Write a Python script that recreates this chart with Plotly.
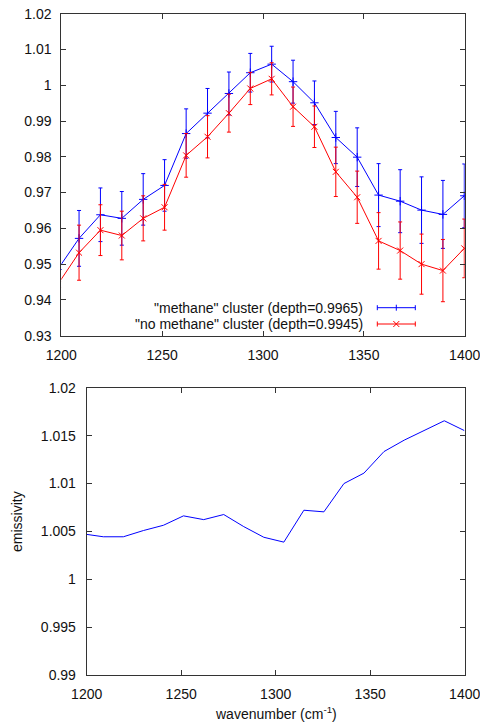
import plotly.graph_objects as go

# ---------------- data ----------------
wavenumber = [1198.2, 1208.8, 1219.4, 1230.0, 1240.6, 1251.2, 1261.9, 1272.5, 1283.1, 1293.7,
              1304.3, 1314.9, 1325.5, 1336.1, 1346.7, 1357.3, 1368.0, 1378.6, 1389.2, 1399.8]

methane = [0.9485, 0.9572, 0.9638, 0.9628, 0.9681, 0.9720, 0.9865, 0.9922, 0.9977, 1.0035,
           1.0059, 1.0010, 0.9951, 0.9854, 0.9799, 0.9693, 0.9676, 0.9651, 0.9639, 0.9691]
methane_err = [0.0080, 0.0078, 0.0075, 0.0075, 0.0072, 0.0072, 0.0069, 0.0069, 0.0060, 0.0054,
               0.0050, 0.0060, 0.0061, 0.0073, 0.0082, 0.0088, 0.0088, 0.0093, 0.0095, 0.0089]

no_methane = [0.9443, 0.9532, 0.9595, 0.9580, 0.9628, 0.9659, 0.9804, 0.9856, 0.9922, 0.9991,
              1.0018, 0.9940, 0.9884, 0.9758, 0.9687, 0.9565, 0.9538, 0.9500, 0.9482, 0.9544]
no_methane_err = [0.0077, 0.0077, 0.0071, 0.0068, 0.0063, 0.0064, 0.0061, 0.0059, 0.0053, 0.0045,
                  0.0045, 0.0055, 0.0058, 0.0069, 0.0073, 0.0079, 0.0080, 0.0084, 0.0087, 0.0082]

emissivity = [1.00475, 1.00445, 1.00445, 1.00510, 1.00565, 1.00663, 1.00624, 1.00677, 1.00551, 1.00440,
              1.00389, 1.00722, 1.00705, 1.01000, 1.01109, 1.01334, 1.01453, 1.01550, 1.01655, 1.01553]

x_ticks = [1200, 1250, 1300, 1350, 1400]
x_labels = ["1200", "1250", "1300", "1350", "1400"]
top_y_ticks = [0.93, 0.94, 0.95, 0.96, 0.97, 0.98, 0.99, 1.00, 1.01, 1.02]
top_y_labels = ["0.93", "0.94", "0.95", "0.96", "0.97", "0.98", "0.99", "1", "1.01", "1.02"]
bot_y_ticks = [0.99, 0.995, 1.0, 1.005, 1.01, 1.015, 1.02]
bot_y_labels = ["0.99", "0.995", "1", "1.005", "1.01", "1.015", "1.02"]

legend_labels = ['"methane" cluster (depth=0.9965)', '"no methane" cluster (depth=0.9945)']
x_title = "wavenumber (cm<sup>-1</sup>)"
y_title = "emissivity"

BLUE = "#0000ff"
RED = "#ff0000"
AXC = "#333333"
TXT = "#111111"
FONT = "Liberation Sans, Arial, sans-serif"
W, H = 480, 723

def px(x):
    return x / W

def py(y):
    return 1 - y / H

fig = go.Figure()

fig.add_trace(go.Scatter(
    x=wavenumber, y=methane, mode="lines+markers", xaxis="x", yaxis="y",
    line=dict(color=BLUE, width=1),
    marker=dict(symbol="cross-thin", size=6, color=BLUE, line=dict(color=BLUE, width=1)),
    error_y=dict(type="data", array=methane_err, visible=True, color=BLUE, thickness=1, width=2),
    name=legend_labels[0], showlegend=False))

fig.add_trace(go.Scatter(
    x=wavenumber, y=no_methane, mode="lines+markers", xaxis="x", yaxis="y",
    line=dict(color=RED, width=1),
    marker=dict(symbol="x-thin", size=6, color=RED, line=dict(color=RED, width=1)),
    error_y=dict(type="data", array=no_methane_err, visible=True, color=RED, thickness=1, width=2),
    name=legend_labels[1], showlegend=False))

fig.add_trace(go.Scatter(
    x=wavenumber, y=emissivity, mode="lines", xaxis="x2", yaxis="y2",
    line=dict(color=BLUE, width=1), showlegend=False, name="emissivity"))

axis_common = dict(
    showline=True, linecolor=AXC, linewidth=1, mirror="allticks",
    ticks="inside", ticklen=5, tickwidth=1, tickcolor=AXC,
    showgrid=False, zeroline=False, automargin=False, ticklabeloverflow="allow",
    tickfont=dict(family=FONT, size=14, color=TXT),
)

fig.update_layout(
    template="none",
    width=W, height=H,
    margin=dict(l=0, r=0, t=0, b=0, pad=0, autoexpand=False),
    paper_bgcolor="white", plot_bgcolor="white",
    font=dict(family=FONT, size=14, color=TXT),
    xaxis=dict(domain=[px(61.3), px(464.7)], range=[1200, 1400], anchor="y",
               tickvals=x_ticks, ticktext=x_labels, ticklabelstandoff=6, **axis_common),
    yaxis=dict(domain=[py(335.7), py(13.7)], range=[0.93, 1.02], anchor="x",
               tickvals=top_y_ticks, ticktext=top_y_labels, ticklabelstandoff=6, **axis_common),
    xaxis2=dict(domain=[px(86.7), px(464.7)], range=[1200, 1400], anchor="y2",
                tickvals=x_ticks, ticktext=x_labels, ticklabelstandoff=6, **axis_common),
    yaxis2=dict(domain=[py(675.3), py(387.7)], range=[0.99, 1.02], anchor="x2",
                tickvals=bot_y_ticks, ticktext=bot_y_labels, ticklabelstandoff=7, **axis_common),
)

# ---- gnuplot-style key (text right-aligned, sample to the right of the text) ----
shapes = []
annotations = []
key_rows = [(307.7, BLUE, "plus"), (324.0, RED, "x")]
for (ky, col, mk), label in zip(key_rows, legend_labels):
    x0, x1, xm = 377.3, 415.3, 396.3
    shapes.append(dict(type="line", xref="paper", yref="paper",
                       x0=px(x0), x1=px(x1), y0=py(ky), y1=py(ky), line=dict(color=col, width=1)))
    for xe in (x0, x1):
        shapes.append(dict(type="line", xref="paper", yref="paper",
                           x0=px(xe), x1=px(xe), y0=py(ky - 2.5), y1=py(ky + 2.5),
                           line=dict(color=col, width=1)))
    if mk == "plus":
        shapes.append(dict(type="line", xref="paper", yref="paper",
                           x0=px(xm), x1=px(xm), y0=py(ky - 3), y1=py(ky + 3),
                           line=dict(color=col, width=1)))
    else:
        shapes.append(dict(type="line", xref="paper", yref="paper",
                           x0=px(xm - 3), x1=px(xm + 3), y0=py(ky - 3), y1=py(ky + 3),
                           line=dict(color=col, width=1)))
        shapes.append(dict(type="line", xref="paper", yref="paper",
                           x0=px(xm - 3), x1=px(xm + 3), y0=py(ky + 3), y1=py(ky - 3),
                           line=dict(color=col, width=1)))
    annotations.append(dict(text=label, xref="paper", yref="paper", x=px(365), y=py(ky),
                            xanchor="right", yanchor="middle", showarrow=False,
                            font=dict(family=FONT, size=14, color=TXT)))

annotations.append(dict(text=x_title, xref="paper", yref="paper", x=px(275.7), y=py(713),
                        xanchor="center", yanchor="middle", showarrow=False,
                        font=dict(family=FONT, size=14, color=TXT)))
annotations.append(dict(text=y_title, xref="paper", yref="paper", x=px(17), y=py(522),
                        xanchor="center", yanchor="middle", showarrow=False, textangle=-90,
                        font=dict(family=FONT, size=14, color=TXT)))

fig.update_layout(shapes=shapes, annotations=annotations)

fig.write_html("out.html",
               config={"displayModeBar": False},
               post_script="document.body.style.margin='0';document.body.style.padding='0';")
